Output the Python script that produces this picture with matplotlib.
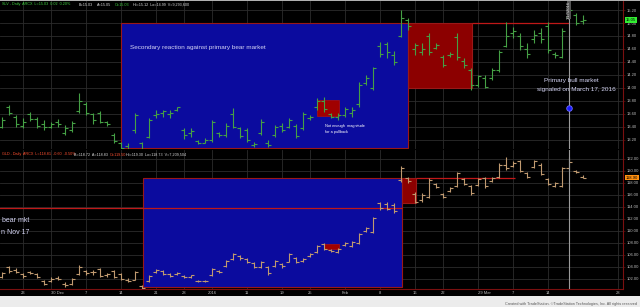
import numpy as np
import matplotlib.pyplot as plt
from matplotlib.patches import Rectangle

plt.rcParams['font.family'] = ['Liberation Sans', 'DejaVu Sans']

# daily bars, one per trading day, Nov 18 2015 .. Mar 21 2016
slv_open = [13.40, 13.70, 13.55, 13.42, 13.60, 13.52, 13.45, 13.40, 13.48, 13.30,
            13.35, 13.65, 13.75, 13.60, 13.62, 13.47, 13.28, 13.15, 13.10, 13.35,
            13.15, 13.25, 13.58, 13.62, 13.60, 13.66, 13.35, 13.30, 13.18, 13.16,
            13.20, 13.30, 13.28, 13.60, 13.38, 13.35, 13.12, 13.30, 13.15, 13.28,
            13.42, 13.40, 13.42, 13.38, 13.54, 13.70, 13.80, 13.60, 13.55, 13.58,
            13.62, 13.75, 14.08, 14.00, 14.65, 14.68, 14.50, 14.80, 15.05, 14.60,
            14.55, 14.80, 14.62, 14.48, 14.50, 14.78, 14.42, 14.28, 14.05, 14.15,
            14.15, 14.28, 14.65, 14.85, 14.80, 14.60, 14.75, 14.85, 14.95, 14.52,
            14.48, 15.10, 15.12, 15.03]
slv_high = [13.55, 13.74, 13.58, 13.54, 13.63, 13.55, 13.51, 13.48, 13.52, 13.43,
            13.49, 13.92, 13.78, 13.62, 13.65, 13.49, 13.31, 13.17, 13.15, 13.62,
            13.17, 13.54, 13.66, 13.66, 13.66, 13.71, 13.38, 13.38, 13.20, 13.23,
            13.51, 13.32, 13.46, 13.69, 13.40, 13.38, 13.17, 13.52, 13.20, 13.43,
            13.46, 13.54, 13.45, 13.63, 13.58, 13.85, 13.86, 13.62, 13.62, 13.71,
            13.71, 14.09, 14.20, 14.32, 14.71, 14.71, 14.57, 15.20, 15.08, 14.69,
            14.69, 14.85, 14.69, 14.51, 14.55, 14.85, 14.46, 14.31, 14.20, 14.20,
            14.31, 14.58, 15.02, 14.94, 14.85, 14.69, 14.89, 14.92, 15.02, 14.55,
            14.92, 15.25, 15.15, 15.12]
slv_low = [13.38, 13.58, 13.40, 13.38, 13.49, 13.38, 13.35, 13.38, 13.40, 13.28,
           13.32, 13.62, 13.58, 13.45, 13.46, 13.42, 13.15, 13.02, 13.02, 13.31,
           13.02, 13.23, 13.54, 13.55, 13.54, 13.65, 13.22, 13.25, 13.14, 13.15,
           13.17, 13.25, 13.25, 13.38, 13.23, 13.17, 13.09, 13.28, 13.09, 13.25,
           13.32, 13.38, 13.23, 13.35, 13.51, 13.66, 13.63, 13.54, 13.51, 13.55,
           13.55, 13.71, 14.05, 13.97, 14.48, 14.46, 14.35, 14.78, 14.89, 14.51,
           14.51, 14.51, 14.60, 14.32, 14.48, 14.43, 14.31, 13.97, 14.02, 14.00,
           14.12, 14.25, 14.63, 14.77, 14.58, 14.46, 14.69, 14.69, 14.54, 14.46,
           14.46, 15.08, 14.97, 14.99]
slv_close = [13.50, 13.62, 13.45, 13.48, 13.52, 13.42, 13.40, 13.45, 13.44, 13.38,
             13.46, 13.80, 13.62, 13.50, 13.48, 13.44, 13.18, 13.08, 13.05, 13.58,
             13.05, 13.50, 13.60, 13.64, 13.62, 13.70, 13.28, 13.34, 13.16, 13.20,
             13.48, 13.28, 13.42, 13.40, 13.26, 13.20, 13.14, 13.48, 13.12, 13.40,
             13.36, 13.50, 13.26, 13.60, 13.56, 13.80, 13.68, 13.56, 13.58, 13.68,
             13.66, 14.05, 14.15, 14.30, 14.52, 14.55, 14.40, 15.08, 14.95, 14.66,
             14.60, 14.55, 14.66, 14.36, 14.53, 14.48, 14.35, 14.05, 14.18, 14.02,
             14.28, 14.55, 14.80, 14.88, 14.65, 14.52, 14.82, 14.75, 14.58, 14.50,
             14.88, 15.20, 15.00, 15.05]

gld_open = [102.4, 104.0, 103.5, 102.8, 103.2, 102.9, 101.6, 101.6, 102.2, 101.2,
            101.2, 102.8, 103.3, 103.2, 103.6, 102.6, 103.4, 102.9, 101.9, 101.9,
            100.8, 101.6, 103.2, 103.3, 102.8, 102.8, 102.5, 102.4, 101.7, 101.6,
            102.6, 103.3, 104.2, 105.3, 105.9, 105.3, 104.6, 104.0, 104.0, 104.2,
            104.5, 104.9, 105.5, 105.0, 105.8, 106.5, 107.8, 106.8, 106.5, 107.6,
            107.5, 108.0, 110.0, 109.9, 114.7, 114.5, 114.4, 118.5, 118.9, 116.2,
            115.2, 115.7, 117.8, 116.1, 116.7, 117.5, 118.6, 117.5, 117.7, 118.8,
            118.4, 119.0, 121.0, 120.9, 121.6, 119.6, 120.7, 121.0, 118.6, 117.5,
            117.5, 120.5, 120.0, 119.0]
gld_high = [103.2, 104.2, 103.8, 103.0, 103.3, 103.0, 101.8, 102.3, 102.5, 101.5,
            102.2, 104.3, 103.5, 103.5, 103.8, 103.0, 103.5, 103.0, 102.2, 103.3,
            101.0, 102.7, 103.7, 103.5, 103.0, 103.2, 102.7, 102.7, 101.8, 101.8,
            103.8, 103.5, 105.2, 106.3, 106.0, 105.5, 104.8, 105.0, 104.2, 105.2,
            104.7, 106.3, 105.7, 105.5, 106.3, 107.7, 108.0, 107.0, 107.2, 108.2,
            108.3, 109.7, 110.7, 112.3, 114.8, 114.8, 114.7, 120.8, 119.0, 116.5,
            116.3, 118.8, 118.0, 116.3, 117.3, 119.8, 118.8, 117.7, 118.8, 119.0,
            119.0, 121.3, 122.3, 121.7, 121.8, 119.8, 121.8, 121.3, 118.8, 118.2,
            120.7, 122.3, 120.2, 119.3]
gld_low = [102.2, 103.0, 103.0, 102.2, 102.8, 102.2, 101.0, 101.5, 101.8, 100.7,
           101.0, 102.7, 102.7, 102.7, 102.3, 102.3, 102.2, 101.8, 101.5, 101.8,
           100.3, 101.5, 103.0, 102.7, 102.3, 102.7, 102.2, 102.2, 101.5, 101.5,
           102.5, 103.0, 104.0, 105.2, 105.2, 104.7, 103.8, 103.8, 102.7, 104.0,
           103.8, 104.8, 104.7, 104.8, 105.7, 106.3, 106.8, 106.5, 106.3, 107.5,
           107.3, 107.8, 109.8, 109.7, 113.5, 113.5, 113.0, 118.2, 118.0, 114.7,
           114.8, 115.5, 117.2, 115.5, 116.5, 117.3, 117.7, 116.0, 117.5, 117.2,
           118.2, 118.8, 120.2, 120.7, 119.8, 118.8, 120.5, 119.3, 117.7, 117.3,
           117.3, 120.2, 119.7, 118.8]
gld_close = [103.0, 103.3, 103.2, 102.5, 103.0, 102.4, 101.2, 102.0, 102.0, 101.0,
             102.0, 104.0, 103.0, 103.1, 102.5, 102.8, 102.4, 102.0, 101.7, 103.2,
             100.5, 102.5, 103.5, 102.9, 102.5, 103.0, 102.4, 102.6, 101.6, 101.7,
             103.7, 103.2, 105.0, 106.2, 105.5, 104.9, 104.0, 104.8, 103.0, 105.0,
             104.1, 106.1, 104.9, 105.3, 106.2, 107.5, 107.0, 106.6, 107.0, 108.0,
             108.1, 109.5, 110.5, 112.2, 113.8, 113.7, 113.3, 120.5, 118.3, 114.9,
             116.0, 118.5, 117.4, 115.7, 117.1, 119.6, 117.9, 116.3, 118.6, 117.5,
             118.8, 121.0, 120.5, 121.4, 120.0, 119.0, 121.6, 119.5, 117.9, 118.0,
             120.5, 121.5, 119.9, 118.9]

# bar index of each date label (index 81 = Mar 17)
date_ticks = [3, 7, 12, 17, 22, 26, 30, 35, 40, 44, 49, 54, 59, 63, 68, 73, 78, 88]
date_labels = ['23', '30 Dec', '7', '14', '21', '28', '2016', '11', '19', '25',
               'Feb', '8', '16', '22', '29 Mar', '7', '14', '28']
slv_ticks = [13.2, 13.4, 13.6, 13.8, 14.0, 14.2, 14.4, 14.6, 14.8, 15.0, 15.2]
gld_ticks = [102, 104, 106, 108, 110, 112, 114, 116, 118, 120, 122]

W, H = 640, 307
fig = plt.figure(figsize=(6.4, 3.07), dpi=100, facecolor='black')

def px_axes(x0, y0, x1, y1):
    return fig.add_axes([x0 / W, 1 - y1 / H, (x1 - x0) / W, (y1 - y0) / H])

ax1 = px_axes(0, 0, 623, 149)
ax2 = px_axes(0, 150, 623, 289)

axred = '#7a1010'
for ax, ticks in ((ax1, slv_ticks), (ax2, gld_ticks)):
    ax.set_facecolor('black')
    ax.set_xlim(-2 / 7, 621 / 7)
    ax.set_xticks(date_ticks)
    ax.set_yticks(ticks)
    ax.yaxis.tick_right()
    ax.yaxis.set_major_formatter(plt.FormatStrFormatter('%.2f'))
    ax.tick_params(axis='y', labelsize=3, colors='#bbbbbb', length=1.5, width=0.4, pad=1)
    ax.tick_params(axis='y', color=axred)
    ax.grid(True, color='#2c2c2c', lw=0.6)
    ax.set_axisbelow(True)
    for s in ax.spines.values():
        s.set_visible(False)
    ax.spines['right'].set_visible(True)
    ax.spines['right'].set_color(axred)
    ax.spines['right'].set_linewidth(0.8)

ax1.set_ylim(13.061, 15.354)
ax2.set_ylim(100.333, 123.5)
ax1.tick_params(axis='x', length=0, labelbottom=False)
ax2.spines['bottom'].set_visible(True)
ax2.spines['bottom'].set_color(axred)
ax2.spines['bottom'].set_linewidth(0.8)
ax2.set_xticklabels(date_labels)
ax2.tick_params(axis='x', length=0, labelsize=3, colors='#bbbbbb', pad=1.2)
for k, lab in enumerate(ax2.get_xticklabels()):
    if ' ' in date_labels[k]:
        lab.set_ha('left')


def draw_bars(ax, o, h, l, c, color):
    n = np.arange(len(o))
    ax.vlines(n, l, h, color=color, lw=0.8, zorder=4)
    ax.hlines(o, n - 0.4, n, color=color, lw=0.8, zorder=4)
    ax.hlines(c, n, n + 0.4, color=color, lw=0.8, zorder=4)


blue = '#0b0b9e'
red = '#8c0000'
edge = '#9a1818'

# top panel boxes
ax1.add_patch(Rectangle((17, 13.07), 41, 15.00 - 13.07, fc=blue, ec=edge, lw=0.8, zorder=2))
ax1.add_patch(Rectangle((58, 14.00), 9.1, 1.00, fc=red, ec=edge, lw=0.8, zorder=2))
ax1.hlines(15.00, 67.1, 81, color='#c01818', lw=0.9, zorder=3)
ax1.add_patch(Rectangle((45, 13.57), 3.1, 0.25, fc='#a00000', ec='#b01010', lw=0.5, zorder=3))

# bottom panel boxes
ax2.hlines(113.83, -1, 57.1, color='#c01818', lw=0.9, zorder=3)
ax2.add_patch(Rectangle((20.1, 100.67), 37, 118.83 - 100.67, fc=blue, ec=edge, lw=0.8, zorder=2))
ax2.add_patch(Rectangle((57.1, 114.67), 2, 118.83 - 114.67, fc=red, ec=edge, lw=0.8, zorder=2))
ax2.hlines(118.83, 59.1, 73.3, color='#c01818', lw=0.9, zorder=3)
ax2.add_patch(Rectangle((46, 107.0), 2.1, 0.83, fc='#a00000', ec='#b01010', lw=0.5, zorder=3))

draw_bars(ax1, slv_open, slv_high, slv_low, slv_close, '#45a045')
draw_bars(ax2, gld_open, gld_high, gld_low, gld_close, '#c09a70')

# signal day marker
for ax in (ax1, ax2):
    ax.axvline(81, color='#9a9a9a', lw=0.8, zorder=5)
ax1.plot(81, 13.69, 'o', ms=4, mfc='#1a1aff', mec='#7070ff', mew=0.6, zorder=6)
ax1.text(81, 15.34, '3/17/2016', rotation=90, fontsize=3, color='#dddddd',
         ha='center', va='top', zorder=6,
         bbox=dict(fc='#555555', ec='none', pad=0.3))

txt = '#d4d4f4'
ax1.text(18.3, 14.63, 'Secondary reaction against primary bear market', fontsize=4.6,
         color=txt, va='center', zorder=6)
ax1.text(46.1, 13.42, 'Not enough  magnitude', fontsize=2.8, color='white', va='center', zorder=6)
ax1.text(46.1, 13.32, 'for a pullback', fontsize=2.8, color='white', va='center', zorder=6)
ax1.text(81.3, 14.11, 'Primary bull market', fontsize=4.6, color=txt, ha='center',
         va='center', zorder=6)
ax1.text(82.1, 13.98, 'signaled on March 17, 2016', fontsize=4.6, color=txt, ha='center',
         va='center', zorder=6)
# the start of this note lies left of the visible window
ax2.text(0.05, 111.67, 'bear mkt', fontsize=5, color=txt, ha='left', va='center', zorder=6)
ax2.text(-0.2, 109.83, 'n Nov 17', fontsize=5, color=txt, ha='left', va='center', zorder=6)

# last price flags on the price scale
ax1.text(1.005, 15.05, '15.05', transform=ax1.get_yaxis_transform(), fontsize=3,
         color='black', va='center', ha='left',
         bbox=dict(fc='#33ee33', ec='none', pad=0.6))
ax2.text(1.005, 118.9, '118.90', transform=ax2.get_yaxis_transform(), fontsize=3,
         color='black', va='center', ha='left',
         bbox=dict(fc='#ff9010', ec='none', pad=0.6))

# symbol headers
green = '#3fcf3f'
gray = '#d8d8d8'
orange = '#ff5030'
head1 = [(2, 'SLV - Daily  ARCX  L=15.03  0.02  0.20%', green), (79, 'B=15.03', gray),
         (97, 'A=15.05', gray), (115, 'O=15.03', green),
         (133, 'Hi=15.12  Lo=14.99  V=9,293,600', gray)]
head2 = [(2, 'GLD - Daily  ARCX  L=118.81  -0.60  -0.50%', orange),
         (74, 'B=118.72  A=118.83', gray), (110, 'O=119.50', orange),
         (126, 'Hi=119.30  Lo=118.73  V=7,209,504', gray)]
for ax, head, top in ((ax1, head1, 149), (ax2, head2, 139)):
    for x, s, col in head:
        ax.text(x / 623, 1 - 4.5 / top, s, transform=ax.transAxes, fontsize=2.7,
                color=col, va='center', ha='left', zorder=7)

# footer strip
fig.patches.append(Rectangle((0, 0), 1, 11 / H, transform=fig.transFigure,
                             fc='#ececec', ec='none'))
fig.patches.append(Rectangle((0, 1 - 1 / H), 1, 1 / H, transform=fig.transFigure,
                             fc='#b0b0b0', ec='none'))
fig.text(637 / W, 1 - 303.5 / H,
         'Created with TradeStation. \u00a9TradeStation Technologies, Inc. All rights reserved',
         fontsize=2.7, color='#555555', ha='right', va='center')

fig.savefig('out.png', dpi=100, facecolor='black')
